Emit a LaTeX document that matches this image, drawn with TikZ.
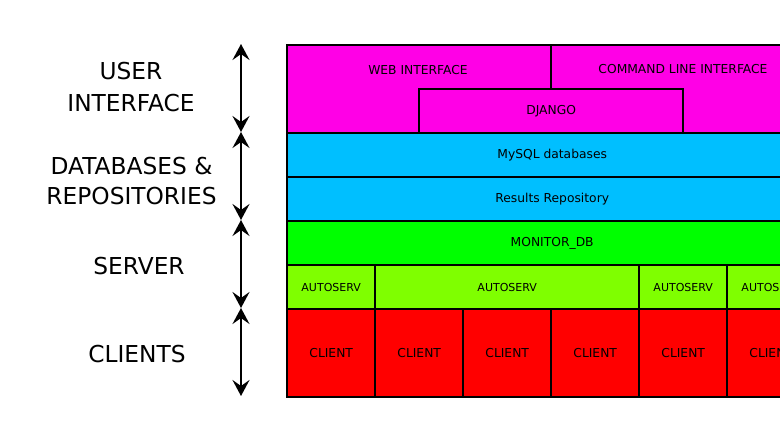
\documentclass[tikz,border=0pt]{standalone}
\usepackage{fontspec}
\setmainfont{DejaVu Sans}
\usetikzlibrary{arrows.meta,calc}
\definecolor{uicol}{HTML}{FF00E6}
\definecolor{dbcol}{HTML}{00BFFF}
\definecolor{srvcol}{HTML}{00FF00}
\definecolor{ascol}{HTML}{7FFF00}
\definecolor{clcol}{HTML}{FF0000}
\begin{document}
\begin{tikzpicture}[x=1pt,y=-1pt,
  box/.style={draw=black,line width=2.4pt,inner sep=0pt,anchor=north west,font=\fontsize{12.3}{14}\selectfont},
  asbox/.style={box,fill=ascol,minimum height=44pt,font=\fontsize{11}{13}\selectfont},
  clbox/.style={box,fill=clcol,minimum width=88pt,minimum height=88pt},
  small/.style={font=\fontsize{12.3}{14}\selectfont,inner sep=0pt},
  big/.style={font=\fontsize{23.3}{32}\selectfont,align=center,inner sep=0pt},
  span/.style={line width=2.4pt,{Stealth[length=16pt,width=17pt,inset=6pt]}-{Stealth[length=16pt,width=17pt,inset=6pt]}}]
\useasboundingbox (0,0) rectangle (780,440);
\clip (0,0) rectangle (780,440);
% user interface
\node[box,fill=uicol,minimum width=264pt,minimum height=88pt] (web) at (286,44) {};
\node[box,fill=uicol,minimum width=266pt,minimum height=88pt] (cli) at (550,44) {};
\node[small] (webt) at (418,70) {WEB INTERFACE};
\node[small] (clit) at (683,69) {COMMAND LINE INTERFACE};
\node[box,fill=uicol,minimum width=264pt,minimum height=44pt] (django) at (418,88) {DJANGO};
% databases
\node[box,fill=dbcol,minimum width=530pt,minimum height=44pt] (mysql) at (286,132) {MySQL databases};
\node[box,fill=dbcol,minimum width=530pt,minimum height=44pt] (results) at (286,176) {Results Repository};
% server
\node[box,fill=srvcol,minimum width=530pt,minimum height=44pt] (monitor) at (286,220) {MONITOR\_DB};
\node[asbox,minimum width=88pt] (as1) at (286,264) {AUTOSERV};
\node[asbox,minimum width=264pt] (as2) at (374,264) {AUTOSERV};
\node[asbox,minimum width=88pt] (as3) at (638,264) {AUTOSERV};
\node[asbox,minimum width=88pt] (as4) at (726,264) {AUTOSERV};
% clients
\node[clbox] (c1) at (286,308) {CLIENT};
\node[clbox] (c2) at (374,308) {CLIENT};
\node[clbox] (c3) at (462,308) {CLIENT};
\node[clbox] (c4) at (550,308) {CLIENT};
\node[clbox] (c5) at (638,308) {CLIENT};
\node[clbox] (c6) at (726,308) {CLIENT};
% labels
\node[big] (luser) at (131,87) {USER\\INTERFACE};
\node[big,font=\fontsize{23.3}{30.5}\selectfont] (ldb) at (131.5,181) {DATABASES \&\\REPOSITORIES};
\node[big] (lsrv) at (139,266) {SERVER};
\node[big] (lcl) at (137,354) {CLIENTS};
% arrows
\coordinate (a0) at (241,44);
\coordinate (a1) at (241,132);
\coordinate (a2) at (241,220);
\coordinate (a3) at (241,308);
\coordinate (a4) at (241,396);
\draw[span] (a0) -- (a1);
\draw[span] (a1) -- (a2);
\draw[span] (a2) -- (a3);
\draw[span] (a3) -- (a4);
\end{tikzpicture}
\end{document}
